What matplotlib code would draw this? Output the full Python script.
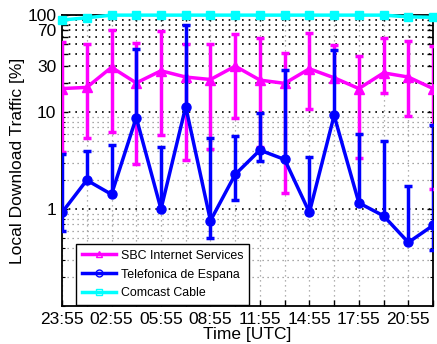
import numpy as np
import matplotlib
matplotlib.use("Agg")
import matplotlib.pyplot as plt
from matplotlib.lines import Line2D
from matplotlib.ticker import FixedLocator, FixedFormatter, NullFormatter

plt.rcParams['font.family'] = ['Liberation Sans', 'DejaVu Sans']

# sample times (every 1.5 hours, UTC)
times = ["23:55", "01:25", "02:55", "04:25", "05:55", "07:25", "08:55", "10:25",
         "11:55", "13:25", "14:55", "16:25", "17:55", "19:25", "20:55", "22:25"]

nan = float('nan')

# SBC Internet Services: value, upper and lower bar ends [%]  (nan = no lower bar)
sbc = [17.5, 18, 29, 20, 26.7, 23, 21.7, 29.8, 21.4, 19.8, 28, 22.6, 17.5, 25.4, 23, 17.5]
sbc_hi = [53, 50, 70, 52, 68, 50, 51, 64, 58, 41, 66, 49, 38, 57.5, 53.5, 48]
sbc_lo = [3.9, 5.4, 6.3, 2.9, 5.8, 3.2, 4.2, 8.6, 4.4, 1.47, 10.7, nan, 3.4, 15.6, 9.2, 1.6]

# Telefonica de Espana
tel = [0.925, 1.99, 1.42, 8.8, 1.0, 11.4, 0.76, 2.28, 4.06, 3.25, 0.925, 9.25, 1.16, 0.853, 0.454, 0.68]
tel_hi = [3.7, 4.0, 4.6, 45, 4.4, 79, 5.4, 5.7, 9.7, 27, 3.46, 43.5, 5.9, 5.06, 1.73, 7.3]
tel_lo = [0.59, nan, nan, nan, nan, nan, 0.5, 1.24, 3.1, nan, nan, nan, nan, nan, nan, 0.38]

# Comcast Cable
com = [89, 94, 100, 100, 100, 100, 100, 100, 100, 100, 100, 100, 100, 100, 96, 95]

x = np.arange(len(times)) * 1.5

fig = plt.figure(figsize=(4.37, 3.44), dpi=100)
ax = fig.add_axes([0.142, 0.110, 0.849, 0.846])

LW = 2.5


def bars(xv, val, lo, hi, color, z):
    val = np.asarray(val, float)
    lo = np.asarray(lo, float)
    hi = np.asarray(hi, float)
    bottom = np.where(np.isnan(lo), val, lo)
    ax.vlines(xv, bottom, hi, colors=color, lw=LW, zorder=z)
    ax.plot(xv, hi, ls='none', marker='_', ms=6, mew=LW, color=color, zorder=z)
    ok = ~np.isnan(lo)
    ax.plot(xv[ok], lo[ok], ls='none', marker='_', ms=6, mew=LW, color=color, zorder=z)


bars(x, sbc, sbc_lo, sbc_hi, '#ff00ff', 3)
ax.plot(x, sbc, color='#ff00ff', lw=LW, marker='^', ms=7, zorder=3)
bars(x, tel, tel_lo, tel_hi, '#0000ff', 4)
ax.plot(x, tel, color='#0000ff', lw=LW, marker='o', ms=6.5, zorder=4)
ax.plot(x, com, color='#00ffff', lw=LW, marker='s', ms=6, zorder=5, clip_on=False)

ax.set_yscale('log')
ax.set_ylim(0.1, 100)
ax.set_xlim(x[0], x[-1])

major_y = [1, 10, 20, 30, 40, 50, 60, 70, 80, 90, 100]
major_lbl = ['1', '10', '', '30', '', '', '', '70', '', '', '100']
ax.yaxis.set_major_locator(FixedLocator(major_y))
ax.yaxis.set_major_formatter(FixedFormatter(major_lbl))
minor_y = [m * d for d in (0.1, 1) for m in range(1, 10)]
ax.yaxis.set_minor_locator(FixedLocator(minor_y))
ax.yaxis.set_minor_formatter(NullFormatter())

ax.set_xticks(x)
ax.set_xticklabels([t if i % 2 == 0 else '' for i, t in enumerate(times)])

ax.tick_params(direction='in', length=4, width=1, labelsize=12.5, pad=4,
               right=True, top=True)
ax.tick_params(which='minor', direction='in', length=2, width=0.8, right=True)
ax.tick_params(axis='x', pad=4)

ax.grid(True, which='major', axis='y', linestyle=(0, (1, 3)), color='black', lw=1.2)
ax.grid(True, which='minor', axis='y', linestyle=(0, (1, 3)), color='0.55', lw=0.9)
ax.grid(True, which='major', axis='x', linestyle=(0, (1, 3)), color='0.6', lw=0.9)
ax.set_axisbelow(True)

for s in ax.spines.values():
    s.set_linewidth(1.3)

ax.set_xlabel('Time [UTC]', fontsize=12.5, labelpad=0)
ax.set_ylabel('Local Download Traffic [%]', fontsize=12.5, labelpad=2)

handles = [
    Line2D([], [], color='#ff00ff', lw=LW, marker='^', ms=5, mfc='none'),
    Line2D([], [], color='#0000ff', lw=LW, marker='o', ms=5, mfc='none'),
    Line2D([], [], color='#00ffff', lw=LW, marker='s', ms=5, mfc='none'),
]
leg = ax.legend(handles, ['SBC Internet Services', 'Telefonica de Espana', 'Comcast Cable'],
                loc='lower left', bbox_to_anchor=(0.035, 0.0), fontsize=8.9,
                handlelength=2.8, fancybox=False, framealpha=1, edgecolor='black',
                borderaxespad=0.1, labelspacing=0.55, handletextpad=0.4,
                borderpad=0.45)
leg.get_frame().set_linewidth(1.0)
leg.set_zorder(10)

fig.savefig('out.png', dpi=100)
